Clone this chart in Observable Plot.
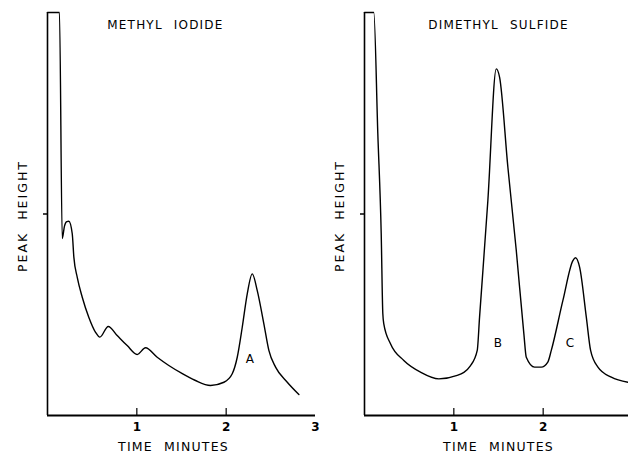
<!DOCTYPE html>
<html>
<head>
<meta charset="utf-8">
<script src="https://cdn.jsdelivr.net/npm/d3@7"></script>
<script src="https://cdn.jsdelivr.net/npm/@observablehq/plot@0.6"></script>
<style>
  html, body { margin: 0; padding: 0; background: #fff; }
  #wrap { width: 628px; height: 455px; overflow: hidden; display: flex; background: #fff; }
  #wrap svg { flex: none; overflow: visible; }
  #wrap svg text { letter-spacing: 1.2px; word-spacing: 6px; }
  #wrap g[aria-label="x-axis tick label"] text { letter-spacing: 0; }
</style>
</head>
<body>
<div id="wrap"></div>
<script>
// Methyl iodide chromatogram (time in minutes, peak height in relative units; 2 = off-scale)
const iodideTime   = [0, 0.134, 0.165, 0.19, 0.215, 0.239, 0.277, 0.295, 0.333, 0.389, 0.462, 0.538, 0.586, 0.68, 0.78, 0.892, 1.004, 1.097, 1.228, 1.358, 1.5, 1.65, 1.825, 1.975, 2.068, 2.124, 2.18, 2.236, 2.292, 2.348, 2.422, 2.478, 2.553, 2.684, 2.814];
const iodideHeight = [2.0, 2.0, 0.878, 0.94, 0.962, 0.964, 0.902, 0.786, 0.686, 0.587, 0.488, 0.413, 0.389, 0.442, 0.397, 0.347, 0.303, 0.336, 0.289, 0.248, 0.21, 0.175, 0.149, 0.165, 0.207, 0.289, 0.438, 0.604, 0.703, 0.62, 0.455, 0.323, 0.24, 0.165, 0.104];

// Dimethyl sulfide chromatogram
const sulfideTime   = [0, 0.104, 0.149, 0.187, 0.205, 0.216, 0.291, 0.44, 0.627, 0.832, 1.038, 1.187, 1.262, 1.288, 1.381, 1.475, 1.512, 1.605, 1.699, 1.784, 1.811, 1.904, 1.979, 2.052, 2.091, 2.221, 2.333, 2.363, 2.408, 2.483, 2.531, 2.613, 2.763, 2.949];
const sulfideHeight = [2.0, 2.0, 1.4, 0.903, 0.506, 0.455, 0.356, 0.273, 0.215, 0.182, 0.199, 0.248, 0.323, 0.488, 1.067, 1.72, 1.679, 1.232, 0.819, 0.405, 0.289, 0.24, 0.24, 0.265, 0.323, 0.571, 0.769, 0.783, 0.736, 0.488, 0.323, 0.24, 0.19, 0.165];

// Peak labels
const iodideLabels  = [{t: 2.273, v: 0.281, label: "A"}];
const sulfideLabels = [{t: 1.499, v: 0.357, label: "B"}, {t: 2.306, v: 0.357, label: "C"}];

const xTicks = [1, 2, 3];
const yTicks = [1];
const titles = ["METHYL IODIDE", "DIMETHYL SULFIDE"];
const titleAt = [1.32, 1.50];
const xLabel = "TIME MINUTES";
const xLabelAt = [1.41, 1.50];
const yLabel = "PEAK HEIGHT";

function panel(T, V, labels, title, tX, xlX) {
  const rows = T.map((t, i) => ({t, v: V[i]}));
  return Plot.plot({
    width: 317,
    height: 455,
    marginLeft: 47,
    marginRight: 2,
    marginTop: 12,
    marginBottom: 40,
    x: {domain: [0, 3], axis: null},
    y: {domain: [0, 2], axis: null},
    style: {fontFamily: "DejaVu Sans, sans-serif", fontSize: "12px", background: "transparent", color: "#000", overflow: "visible"},
    marks: [
      Plot.ruleX([0], {y1: 0, y2: 2, stroke: "#000", strokeWidth: 1.6}),
      Plot.ruleY([0], {x1: 0, x2: 3, stroke: "#000", strokeWidth: 2}),
      Plot.axisY({ticks: yTicks, tickSize: 4, tickFormat: () => "", label: null, strokeWidth: 1.5}),
      Plot.ruleX(xTicks.slice(0, 2), {y1: 0, y2: 0.035, stroke: "#000", strokeWidth: 1.2}),
      Plot.axisX({ticks: xTicks, tickSize: 0, tickPadding: 7, label: null, fontSize: 12, fontWeight: "bold", tickFormat: d3.format("d")}),
      Plot.line(rows, {x: "t", y: "v", curve: "monotone-x", stroke: "#000", strokeWidth: 1.4}),
      Plot.text(labels, {x: "t", y: "v", text: "label", fontSize: 12, fill: "#000"}),
      Plot.text([title], {x: tX, frameAnchor: "top", textAnchor: "middle", lineAnchor: "middle", dy: 13, fontSize: 12, fill: "#000"}),
      Plot.text([xLabel], {x: xlX, frameAnchor: "bottom", textAnchor: "middle", lineAnchor: "middle", dy: 31, fontSize: 12.5, fill: "#000"}),
      Plot.text([yLabel], {frameAnchor: "left", textAnchor: "middle", lineAnchor: "middle", rotate: -90, dx: -25, dy: 2, fontSize: 12.5, fill: "#000"})
    ]
  });
}

const wrap = document.getElementById("wrap");
wrap.appendChild(panel(iodideTime, iodideHeight, iodideLabels, titles[0], titleAt[0], xLabelAt[0]));
wrap.appendChild(panel(sulfideTime, sulfideHeight, sulfideLabels, titles[1], titleAt[1], xLabelAt[1]));
document.querySelectorAll('#wrap g[aria-label="text"] text').forEach(el => {
  if (el.textContent === yLabel) el.style.letterSpacing = "2px";
});
</script>
</body>
</html>
